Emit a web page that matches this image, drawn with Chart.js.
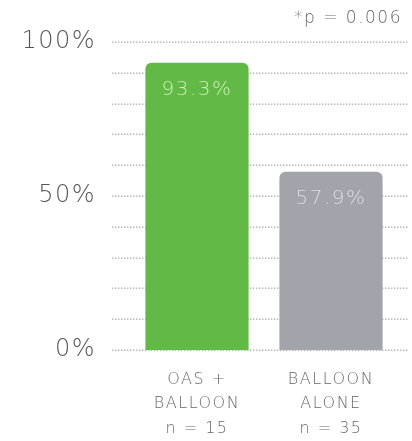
<!DOCTYPE html>
<html>
<head>
<meta charset="utf-8">
<script src="https://cdn.jsdelivr.net/npm/chart.js@4/dist/chart.umd.min.js"></script>
<style>
  html, body { margin: 0; padding: 0; background: #fff; }
  #wrap { width: 412px; height: 441px; }
</style>
</head>
<body>
<div id="wrap"><canvas id="result_chart"></canvas></div>
<script>

// data
let group_labels = [["OAS +", "BALLOON", "n = 15"], ["BALLOON", "ALONE", "n = 35"]];
let success_rates = [93.3, 57.9];
let bar_colors = ["#62b946", "#a1a4ab"];
let value_colors = ["#c8f0b4", "#dcdee3"];
let y_tick_labels = { 0: "0%", 50: "50%", 100: "100%" };
let p_note = "*p = 0.006";

let fontFamily = "'DejaVu Sans', 'Open Sans', sans-serif";

// wide, airy lettering like the original
const spacing = {
    id: "spacing",
    beforeDraw(chart){
        chart.ctx.letterSpacing = "1.5px";
    }
};

// dotted lines every 10%, wider than the plot area like the original
const dottedGrid = {
    id: "dottedGrid",
    beforeDatasetsDraw(chart){
        const ctx = chart.ctx;
        const y = chart.scales.y;
        ctx.save();
        ctx.fillStyle = "#aeb0b3";
        y.ticks.forEach(t => {
            const py = Math.round(y.getPixelForValue(t.value));
            for(let x = 112; x < 408; x += 3){
                ctx.fillRect(x, py - 0.5, 1.4, 1.4);
            }
        });
        ctx.restore();
    }
};

// value text inside the bars + the p value note
const barText = {
    id: "barText",
    afterDatasetsDraw(chart){
        const ctx = chart.ctx;
        const meta = chart.getDatasetMeta(0);
        ctx.save();
        ctx.font = "300 20px " + fontFamily;
        ctx.textAlign = "center";
        ctx.textBaseline = "middle";
        meta.data.forEach((bar, i) => {
            ctx.fillStyle = value_colors[i];
            ctx.fillText(success_rates[i].toFixed(1) + "%", bar.x, bar.y + 27);
        });

        ctx.font = "300 17px " + fontFamily;
        ctx.fillStyle = "#666";
        ctx.textAlign = "right";
        ctx.fillText(p_note, 402, 19);
        ctx.restore();
    }
};

new Chart(result_chart, {
    type: "bar",
    data: {
        labels: group_labels,
        datasets: [{
            data: success_rates,
            backgroundColor: bar_colors,
            borderRadius: { topLeft: 6, topRight: 6 },
            borderSkipped: "bottom",
            barPercentage: 0.77,
            categoryPercentage: 1
        }]
    },
    options: {
        responsive: true,
        maintainAspectRatio: false,
        animation: false,
        layout: { padding: { top: 42, right: 14, left: 0, bottom: 0 } },
        plugins: {
            legend: { display: false },
            tooltip: { enabled: false }
        },
        scales: {
            y: {
                min: 0,
                max: 100,
                afterFit: (scale) => {
                    scale.width = 130;
                    scale.paddingTop = 0;
                    scale.paddingBottom = 0;
                },
                border: { display: false },
                grid: { display: false, drawTicks: false },
                ticks: {
                    stepSize: 10,
                    autoSkip: false,
                    padding: 34,
                    color: "#555",
                    font: { family: fontFamily, size: 24, weight: "300" },
                    callback: (v) => y_tick_labels[v] || ""
                }
            },
            x: {
                afterFit: (scale) => {
                    scale.height = 91;
                    scale.paddingLeft = 0;
                    scale.paddingRight = 0;
                },
                border: { display: false },
                grid: { display: false, drawTicks: false },
                ticks: {
                    padding: 17,
                    color: "#666",
                    maxRotation: 0,
                    font: { family: fontFamily, size: 16, weight: "300", lineHeight: 1.55 }
                }
            }
        }
    },
    plugins: [spacing, dottedGrid, barText]
});

</script>
</body>
</html>
